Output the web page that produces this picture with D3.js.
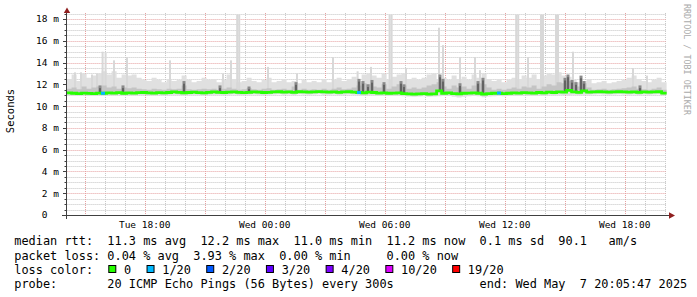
<!DOCTYPE html>
<html>
<head>
<meta charset="utf-8">
<script src="https://d3js.org/d3.v7.min.js"></script>
<style>
body { margin: 0; background: #fff; }
text { font-family: "DejaVu Sans Mono", monospace; white-space: pre; }
</style>
</head>
<body>
<svg id="chart" width="697" height="297"></svg>
<script>
// 15 minute bins, ms
const median = [11.22,11.18,11.15,11.20,11.17,11.15,11.20,11.18,11.22,11.20,
  11.24,11.18,11.22,11.20,11.23,11.25,11.22,11.20,11.24,11.22,
  11.25,11.30,11.26,11.22,11.25,11.28,11.24,11.22,11.26,11.30,
  11.27,11.25,11.28,11.30,11.26,11.24,11.27,11.30,11.28,11.25,
  11.27,11.30,11.32,11.28,11.30,11.27,11.32,11.30,11.28,11.30,
  11.33,11.30,11.28,11.30,11.27,11.30,11.32,11.28,11.25,11.22,
  11.28,11.25,11.20,11.22,11.18,11.20,11.22,11.15,11.12,11.10,
  11.12,11.15,11.10,11.12,11.40,11.18,11.22,11.15,11.12,11.18,
  11.20,11.22,11.18,11.10,11.15,11.18,11.20,11.15,11.18,11.22,
  11.20,11.24,11.22,11.20,11.25,11.22,11.28,11.25,11.30,11.28,
  11.45,11.30,11.26,11.40,11.28,11.30,11.32,11.30,11.28,11.30,
  11.32,11.30,11.28,11.30,11.27,11.30,11.28,11.30,11.32,11.20];
const smokeLo = [11.00,10.95,10.98,11.00,10.96,10.95,11.00,10.97,11.00,10.98,
  11.02,10.98,11.00,10.97,11.02,11.03,11.00,10.98,11.02,11.00,
  11.03,11.05,11.02,11.00,11.03,11.05,11.02,11.00,11.03,11.05,
  11.04,11.02,11.05,11.06,11.03,11.02,11.04,11.06,11.05,11.02,
  11.04,11.06,11.08,11.04,11.06,11.03,11.08,11.06,11.04,11.06,
  11.08,11.05,11.04,11.06,11.03,11.05,11.07,11.04,11.00,10.98,
  11.02,11.00,10.95,10.98,10.92,10.95,10.98,10.90,10.88,10.85,
  10.88,10.90,10.85,10.88,10.90,10.92,10.95,10.85,10.80,10.85,
  10.90,10.95,10.90,10.82,10.88,10.90,10.95,10.90,10.92,10.98,
  10.96,11.00,10.98,10.95,11.00,10.98,11.04,11.00,11.05,11.03,
  11.00,11.05,11.02,11.04,11.04,11.06,11.08,11.06,11.04,11.06,
  11.08,11.06,11.04,11.06,11.03,11.06,11.04,11.06,11.08,11.00];
const smokeHi = [12.5,12.9,12.3,13.0,12.6,12.8,13.0,13.2,12.9,13.2,
  12.6,12.9,12.8,12.9,12.6,12.4,12.3,12.6,12.4,12.2,
  12.5,12.3,12.4,12.8,12.4,12.2,12.3,12.6,12.4,12.5,
  12.2,12.4,12.9,12.5,12.2,12.3,12.6,12.3,12.2,12.4,
  12.6,12.2,12.3,12.5,12.2,12.3,12.1,12.4,12.2,12.3,
  12.2,12.5,12.2,12.4,12.6,12.3,12.5,12.7,12.3,12.9,
  13.0,12.8,12.6,13.0,12.4,12.7,12.9,13.0,12.5,12.6,
  12.4,12.6,12.9,13.0,12.5,12.6,12.4,12.8,12.5,12.7,
  12.4,12.9,12.6,13.0,12.5,12.3,12.5,12.2,12.4,12.6,
  12.5,12.8,12.6,12.9,12.5,12.8,13.0,12.9,13.1,12.8,
  12.7,12.4,12.2,12.3,12.5,12.1,12.2,12.3,12.1,12.2,
  12.3,12.4,12.6,12.8,12.5,12.3,12.2,12.4,12.6,12.2];
const smokeMid = [11.6,11.7,11.55,11.8,11.6,11.7,11.8,11.9,11.7,11.8,
  11.6,11.7,11.65,11.7,11.6,11.55,11.5,11.6,11.55,11.5,
  11.6,11.55,11.6,11.9,11.55,11.5,11.55,11.6,11.55,11.6,
  11.5,11.6,11.7,11.6,11.5,11.55,11.65,11.55,11.5,11.6,
  11.65,11.5,11.55,11.6,11.5,11.8,11.5,11.6,11.5,11.55,
  11.5,11.6,11.5,11.6,11.7,11.55,11.6,11.7,11.9,12.1,
  12.0,11.8,11.7,12.0,11.6,11.8,12.0,11.9,11.6,11.7,
  11.6,11.7,11.9,12.0,12.2,11.8,11.6,11.9,11.7,11.8,
  11.6,11.9,12.1,12.0,11.7,11.5,11.6,11.5,11.6,11.7,
  11.6,11.8,11.7,11.9,11.6,11.8,12.0,11.9,12.2,12.1,
  12.3,12.2,11.8,12.1,11.7,11.5,11.55,11.6,11.5,11.55,
  11.6,11.65,11.7,11.8,11.6,11.55,11.5,11.6,11.7,11.5];
// single pings far above the smoke: [hours after start, ms]
const spikes = [[0.42,13.1],[0.72,13.1],[1.27,12.9],[1.52,13.0],[1.80,15.0],[1.95,14.9],
  [2.37,14.2],[3.02,14.5],[5.17,14.2],[7.82,13.0],[8.22,14.2],[8.53,18.4],[8.63,18.4],
  [10.07,13.6],[11.52,13.0],[13.32,14.5],[14.55,13.2],[15.22,13.6],[16.15,18.4],[16.25,18.4],
  [16.97,13.5],[18.62,17.2],[18.82,15.6],[19.67,14.5],[20.42,14.5],[20.67,13.3],
  [22.48,18.4],[22.58,18.4],[23.07,14.5],[23.72,18.4],[23.82,18.4],[24.47,18.4],[24.57,18.4],
  [25.32,15.0],[28.32,13.5],[29.02,12.8]];
// dense dark smoke: [hours after start, ms]
const darkSmoke = [[1.67,11.9],[2.82,11.9],[5.87,12.3],[7.67,11.9],[9.12,11.8],[11.47,12.2],
  [14.62,12.5],[14.82,12.3],[15.07,12.0],[15.27,12.4],[15.87,12.2],[16.72,12.3],[16.87,12.0],
  [18.67,12.9],[18.82,12.5],[19.67,12.1],[20.57,12.3],[20.82,12.6],[24.92,12.6],[25.07,12.9],
  [25.27,12.4],[25.47,12.2],[25.72,12.8],[25.87,12.3],[28.67,11.9]];
// packet loss events: [hours after start, lost of 20]
const lossEvents = [[1.82,1],[14.62,1],[21.62,1]];

const lossLabels = ["0","1/20","2/20","3/20","4/20","10/20","19/20"];
const lossColors = ["#26ff00","#00b8ff","#0059ff","#5e00ff","#7e00ff","#dd00ff","#ff0000"];
const yTicks = [0,2,4,6,8,10,12,14,16,18];
const legendLines = [
  "median rtt:  11.3 ms avg  12.2 ms max  11.0 ms min  11.2 ms now  0.1 ms sd  90.1   am/s",
  "packet loss: 0.04 % avg  3.93 % max  0.00 % min     0.00 % now",
  "loss color:",
  "probe:       20 ICMP Echo Pings (56 Bytes) every 300s            end: Wed May  7 20:05:47 2025"
];

const stepMin = 15;
const start = new Date(2025, 4, 6, 14, 5, 47);
const end = new Date(2025, 4, 7, 20, 5, 47);
const hrs = h => new Date(+start + h * 3600000);

const svg = d3.select("#chart");
svg.append("rect").attr("width", 697).attr("height", 297).attr("fill", "#fff");

const x = d3.scaleTime().domain([start, end]).range([66.6, 666.6]);
const y = d3.scaleLinear().domain([0, 18.55]).range([215, 13]);
const x0 = 66.6, x1 = 666.6, yTop = 13, yBot = 215;

const bins = median.map((m, i) => ({t: new Date(+start + i * stepMin * 60000), med: m, lo: smokeLo[i], hi: smokeHi[i], mid: smokeMid[i]}));
bins.push(Object.assign({}, bins[bins.length - 1], {t: end}));
const medAt = h => median[Math.min(median.length - 1, Math.floor(h * 60 / stepMin))];

// grid
const grid = svg.append("g");
d3.range(1, 38).map(k => k * 0.5).filter(v => v % 2 !== 0 && y(v) >= yTop).forEach(v => {
  grid.append("line").attr("x1", x0).attr("x2", x1).attr("y1", Math.round(y(v)) + 0.5).attr("y2", Math.round(y(v)) + 0.5)
    .attr("stroke", "#c4c4c4").attr("stroke-dasharray", "1,1");
});
d3.timeHour.range(start, end).forEach(t => {
  const major = t.getHours() % 3 === 0;
  grid.append("line").attr("x1", Math.round(x(t)) + 0.5).attr("x2", Math.round(x(t)) + 0.5).attr("y1", yTop).attr("y2", yBot)
    .attr("stroke", major ? "#e6a0a0" : "#c8c8c8").attr("stroke-dasharray", "1,1");
});
yTicks.filter(v => v > 0).forEach(v => {
  grid.append("line").attr("x1", x0).attr("x2", x1).attr("y1", Math.round(y(v)) + 0.5).attr("y2", Math.round(y(v)) + 0.5)
    .attr("stroke", "#e6a0a0").attr("stroke-dasharray", "1,1");
});

// smoke
const outer = d3.area().x(d => x(d.t)).y0(d => y(d.lo)).y1(d => y(d.hi)).curve(d3.curveStepAfter);
svg.append("path").datum(bins).attr("d", outer).attr("fill", "#e0e0e0");
svg.selectAll("rect.spike").data(spikes).join("rect").attr("class", "spike")
  .attr("x", d => x(hrs(d[0])) - 1).attr("width", 2)
  .attr("y", d => y(d[1])).attr("height", d => y(medAt(d[0])) - y(d[1]))
  .attr("fill", "#d8d8d8");
const inner = d3.area().x(d => x(d.t)).y0(d => y(d.med - 0.12)).y1(d => y(d.mid)).curve(d3.curveStepAfter);
svg.append("path").datum(bins).attr("d", inner).attr("fill", "#c4c4c4");
svg.selectAll("rect.dark").data(darkSmoke).join("rect").attr("class", "dark")
  .attr("x", d => x(hrs(d[0])) - 1.5).attr("width", 3)
  .attr("y", d => y(d[1])).attr("height", d => y(medAt(d[0])) - y(d[1]))
  .attr("fill", "#8a8a8a");
svg.selectAll("rect.core").data(darkSmoke).join("rect").attr("class", "core")
  .attr("x", d => x(hrs(d[0])) - 0.5).attr("width", 1)
  .attr("y", d => y(d[1] - 0.25)).attr("height", d => Math.max(0, y(medAt(d[0])) - y(d[1] - 0.25)))
  .attr("fill", "#3c3c3c");

// median
const medLine = d3.line().x(d => x(d.t)).y(d => y(d.med)).curve(d3.curveStepAfter);
svg.append("path").datum(bins).attr("d", medLine).attr("fill", "none")
  .attr("stroke", lossColors[0]).attr("stroke-width", 2.8);
svg.selectAll("rect.loss").data(lossEvents).join("rect").attr("class", "loss")
  .attr("x", d => x(hrs(d[0])) - 2).attr("width", 4)
  .attr("y", d => y(medAt(d[0])) - 1.5).attr("height", 3)
  .attr("fill", d => lossColors[d[1]]);

// axes
svg.append("line").attr("x1", 62).attr("x2", 670).attr("y1", 215.5).attr("y2", 215.5).attr("stroke", "#404040");
svg.append("line").attr("x1", 66.5).attr("x2", 66.5).attr("y1", 12).attr("y2", 219).attr("stroke", "#404040");
svg.append("path").attr("d", "M67,7.5L63.8,13L70.2,13Z").attr("fill", "#8f1f1f");
svg.append("path").attr("d", "M675,215.5L669,212.3L669,218.7Z").attr("fill", "#8f1f1f");

d3.range(1, 38).map(k => k * 0.5).filter(v => y(v) >= yTop).forEach(v => {
  const yy = Math.round(y(v)) + 0.5;
  svg.append("line").attr("x1", v % 2 === 0 ? 63 : 64.5).attr("x2", 66).attr("y1", yy).attr("y2", yy).attr("stroke", "#404040");
});

svg.selectAll("text.ytick").data(yTicks).join("text").attr("class", "ytick")
  .attr("x", 59).attr("y", d => y(d) + 3.4).attr("text-anchor", "end")
  .attr("font-size", "9.5px").attr("fill", "#000")
  .text(d => d === 0 ? "0  " : d + " m");

const fmt = d3.timeFormat("%a %H:%M");
svg.selectAll("text.xtick").data(d3.timeHour.every(6).range(start, end)).join("text").attr("class", "xtick")
  .attr("x", d => x(d)).attr("y", 228).attr("text-anchor", "middle")
  .attr("font-size", "9.5px").attr("fill", "#000").text(d => fmt(d));

svg.append("text").attr("transform", "translate(14,111) rotate(-90)").attr("text-anchor", "middle")
  .attr("font-size", "10.5px").attr("fill", "#000").text("Seconds");
svg.append("text").attr("transform", "translate(683.8,4) rotate(90)").attr("text-anchor", "start")
  .attr("font-size", "8.4px").attr("fill", "#aaaaaa").text("RRDTOOL / TOBI OETIKER");

// legend
const cw = 7.154, lx = 14.3;
legendLines.forEach((s, i) => {
  svg.append("text").attr("x", lx).attr("y", 245.3 + i * 14.2).attr("font-size", "11.9px").attr("fill", "#000").text(s);
});
let cur = 108.3;
lossLabels.forEach((lab, i) => {
  svg.append("rect").attr("x", cur + 0.5).attr("y", 265.5).attr("width", 7).attr("height", 7)
    .attr("fill", lossColors[i]).attr("stroke", "#000");
  const tx = cur + 15.7;
  svg.append("text").attr("x", tx).attr("y", 245.3 + 2 * 14.2).attr("font-size", "11.9px").attr("fill", "#000").text(lab);
  cur = tx + (lab.length + 2.15) * cw;
});
</script>
</body>
</html>
